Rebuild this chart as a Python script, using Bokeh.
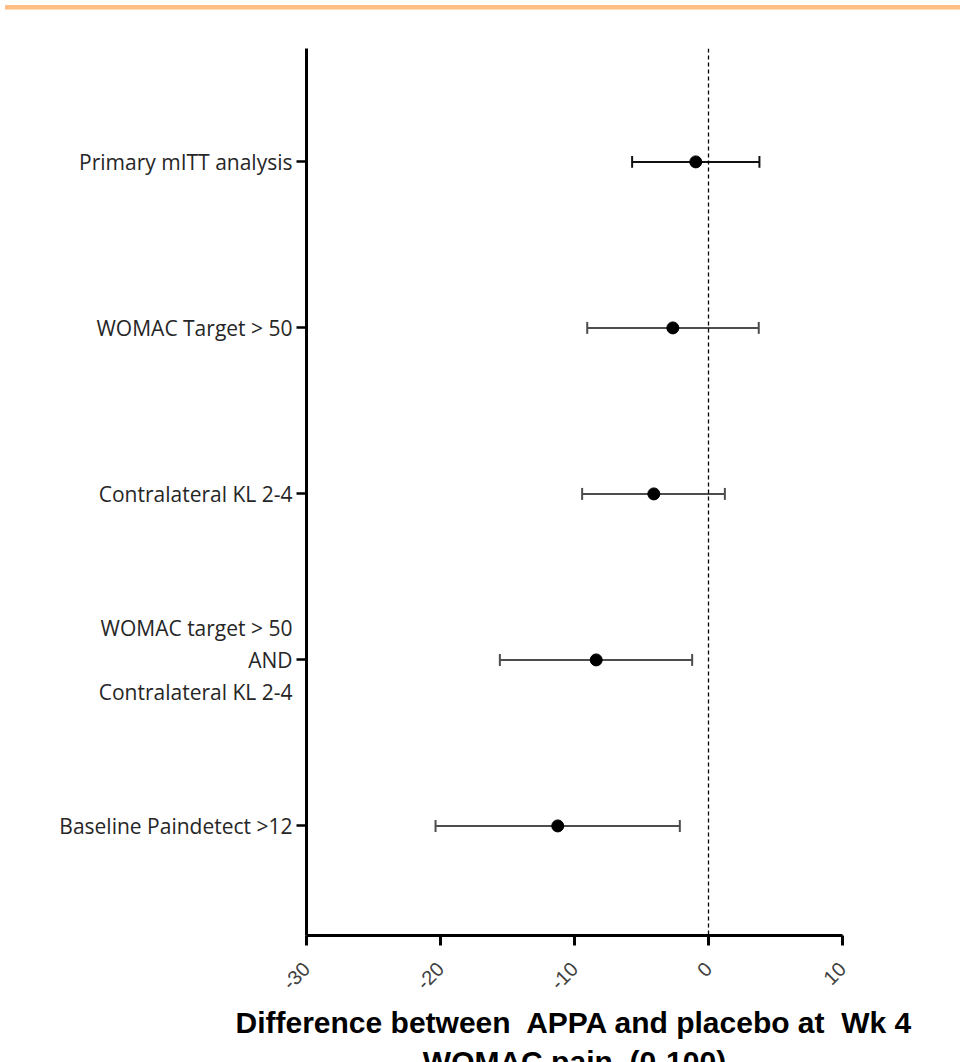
from bokeh.plotting import figure
from bokeh.models import Range1d, FixedTicker, Span, Div, ColumnDataSource
from bokeh.layouts import column
from bokeh.embed import file_html
from bokeh.resources import INLINE
import math

# ---- data ----
subgroups = [
    "Primary mITT analysis",
    "WOMAC Target > 50",
    "Contralateral KL 2-4",
    "WOMAC target > 50\nAND\nContralateral KL 2-4",
    "Baseline Paindetect >12",
]
estimate = [-0.95, -2.66, -4.08, -8.38, -11.25]
ci_low = [-5.7, -9.05, -9.43, -15.57, -20.37]
ci_high = [3.8, 3.75, 1.22, -1.22, -2.14]
bar_colors = ["#111111", "#4d4d4d", "#4d4d4d", "#4d4d4d", "#4d4d4d"]
x_ticks = [-30, -20, -10, 0, 10]
x_tick_labels = ["-30", "-20", "-10", "0", "10"]
x_title = "Difference between\u00a0 APPA and placebo at\u00a0 Wk 4\nWOMAC pain\u00a0 (0-100)"

n = len(subgroups)
ypos = [n - i for i in range(n)]
cap = 0.036
src = ColumnDataSource(dict(
    y=ypos, est=estimate, lo=ci_low, hi=ci_high, color=bar_colors,
    ylo=[v - cap for v in ypos], yhi=[v + cap for v in ypos],
))

p = figure(width=930, height=1080, output_backend="svg", toolbar_location=None,
           x_range=Range1d(-30, 10), y_range=Range1d(0.34, 5.683),
           min_border_left=306, min_border_top=33, min_border_bottom=160,
           min_border_right=88)
p.outline_line_color = None
p.grid.visible = False
p.background_fill_color = "white"

# zero reference line
p.add_layout(Span(location=0, dimension="height", line_color="black",
                  line_width=1.3, line_dash="4 3"))

# error bars
p.segment(x0="lo", x1="hi", y0="y", y1="y", source=src, line_color="color", line_width=2)
p.segment(x0="lo", x1="lo", y0="ylo", y1="yhi", source=src, line_color="color", line_width=2)
p.segment(x0="hi", x1="hi", y0="ylo", y1="yhi", source=src, line_color="color", line_width=2)
p.scatter(x="est", y="y", source=src, size=12, color="black")

# x axis
xa = p.xaxis[0]
xa.ticker = FixedTicker(ticks=x_ticks)
xa.major_label_overrides = {t: s for t, s in zip(x_ticks, x_tick_labels)}
xa.minor_tick_line_color = None
xa.axis_line_width = 3
xa.major_tick_line_width = 3
xa.major_tick_out = 10
xa.major_tick_in = 0
xa.major_label_orientation = math.pi / 4
xa.major_label_text_font = "Liberation Sans"
xa.major_label_text_font_size = "20px"
xa.major_label_text_color = "#404040"
xa.major_label_standoff = 20
xa.axis_label = x_title
xa.axis_label_text_font = "Liberation Sans"
xa.axis_label_text_font_style = "bold"
xa.axis_label_text_font_size = "30px"
xa.axis_label_text_color = "black"
xa.axis_label_standoff = 7

# y axis
ya = p.yaxis[0]
ya.ticker = FixedTicker(ticks=ypos)
ya.major_label_overrides = {y: s for y, s in zip(ypos, subgroups)}
ya.minor_tick_line_color = None
ya.axis_line_width = 3
ya.major_tick_line_width = 2.5
ya.major_tick_out = 10
ya.major_tick_in = 0
ya.major_label_text_font = "Open Sans"
ya.major_label_text_font_size = "21px"
ya.major_label_text_line_height = 1.155
ya.major_label_text_color = "#262626"
ya.major_label_standoff = 4

band = Div(text="", width=960, height=5,
           styles={"background-color": "#FFBE86", "border-bottom": "1px solid #FFDDBB"})

layout = column(band, p, spacing=0)
open("out.html", "w").write(file_html(layout, INLINE))
